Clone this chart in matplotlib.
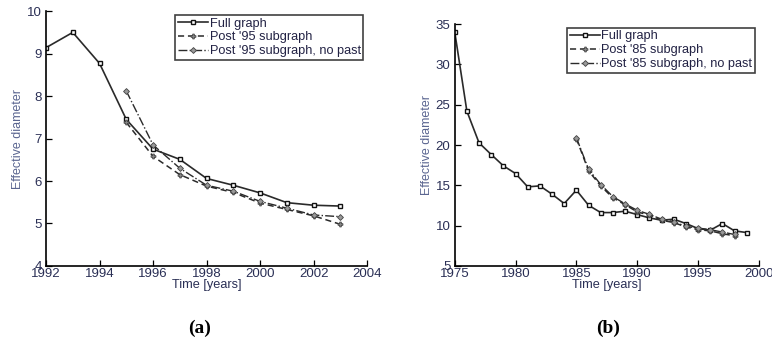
import matplotlib
matplotlib.use("Agg")
import matplotlib.pyplot as plt

# ---- data (a) ----
years_a = [1992, 1993, 1994, 1995, 1996, 1997, 1998, 1999, 2000, 2001, 2002, 2003]
full_a = [9.14, 9.50, 8.77, 7.45, 6.75, 6.51, 6.06, 5.90, 5.72, 5.49, 5.43, 5.41]
years_a_sub = [1995, 1996, 1997, 1998, 1999, 2000, 2001, 2002, 2003]
post_a = [7.38, 6.58, 6.15, 5.88, 5.73, 5.48, 5.33, 5.18, 4.98]
nopast_a = [8.12, 6.85, 6.30, 5.90, 5.76, 5.52, 5.36, 5.20, 5.16]
labels_a = ["Full graph", "Post '95 subgraph", "Post '95 subgraph, no past"]

# ---- data (b) ----
years_b = list(range(1975, 2000))
full_b = [34.05, 24.2, 20.27, 18.82, 17.42, 16.46, 14.81, 14.93, 13.9, 12.74,
          14.4, 12.53, 11.62, 11.62, 11.79, 11.37, 10.96, 10.67, 10.8, 10.26,
          9.64, 9.43, 10.26, 9.35, 9.14]
years_b_sub = list(range(1985, 1999))
post_b = [20.8, 16.8, 14.93, 13.44, 12.6, 11.7, 11.3, 10.67, 10.38, 9.84, 9.5, 9.35, 9.0, 8.73]
nopast_b = [20.9, 17.0, 15.1, 13.6, 12.7, 11.9, 11.4, 10.8, 10.5, 9.9, 9.7, 9.5, 9.2, 8.9]
labels_b = ["Full graph", "Post '85 subgraph", "Post '85 subgraph, no past"]

xticks_a = [1992, 1994, 1996, 1998, 2000, 2002, 2004]
yticks_a = [4, 5, 6, 7, 8, 9, 10]
xticks_b = [1975, 1980, 1985, 1990, 1995, 2000]
yticks_b = [5, 10, 15, 20, 25, 30, 35]

plt.rcParams['font.family'] = ['Liberation Sans', 'DejaVu Sans']

fig = plt.figure(figsize=(7.72, 3.49), dpi=100)
ax1 = fig.add_axes([0.0596, 0.238, 0.416, 0.730])
ax2 = fig.add_axes([0.589, 0.238, 0.394, 0.693])

lc = '#2a2a2a'
tick_col = '#2a2f55'

def style(ax, xt, yt, xl, yl):
    ax.set_xticks(xt)
    ax.set_yticks(yt)
    ax.set_xlim(xl)
    ax.set_ylim(yl)
    for s in ['top', 'right']:
        ax.spines[s].set_visible(False)
    for s in ['left', 'bottom']:
        ax.spines[s].set_linewidth(1.2)
    ax.tick_params(direction='in', length=4, width=0.9, labelsize=9.5,
                   labelcolor=tick_col, pad=1.5)
    ax.tick_params(axis='y', pad=3)
    ax.set_xlabel("Time [years]", fontsize=9.2, color=tick_col, labelpad=-1)
    ax.set_ylabel("Effective diameter", fontsize=9, color='#5a6590', labelpad=2)

def draw(ax, x, full, xs, post, nopast, labels):
    ax.plot(x, full, color=lc, lw=1.2, ls='-', marker='s', ms=3.5,
            mfc='white', mec='#111111', mew=1.0, label=labels[0])
    ax.plot(xs, post, color=lc, lw=1.1, ls=(0, (4, 2.5)), marker='P', ms=3.5,
            mfc='#888888', mec='#444444', mew=0.6, label=labels[1])
    ax.plot(xs, nopast, color=lc, lw=1.0, ls='-.', marker='D', ms=3,
            mfc='#999999', mec='#444444', mew=0.6, label=labels[2])
    leg = ax.legend(loc='upper right', fontsize=9.2, frameon=True, fancybox=False,
                    edgecolor='#111111', handlelength=2.4, handletextpad=0.1,
                    borderpad=0.2, labelspacing=0.15, borderaxespad=0.3,
                    labelcolor='#222244')
    leg.get_frame().set_linewidth(1.2)

draw(ax1, years_a, full_a, years_a_sub, post_a, nopast_a, labels_a)
style(ax1, xticks_a, yticks_a, (1992, 2004), (4, 10))
draw(ax2, years_b, full_b, years_b_sub, post_b, nopast_b, labels_b)
style(ax2, xticks_b, yticks_b, (1975, 2000), (5, 35))

fig.text(0.258, 0.06, "(a)", fontsize=14, fontweight='bold',
         family=['Liberation Serif'], ha='center', va='center')
fig.text(0.787, 0.06, "(b)", fontsize=14, fontweight='bold',
         family=['Liberation Serif'], ha='center', va='center')

fig.savefig("out.png", dpi=100)
